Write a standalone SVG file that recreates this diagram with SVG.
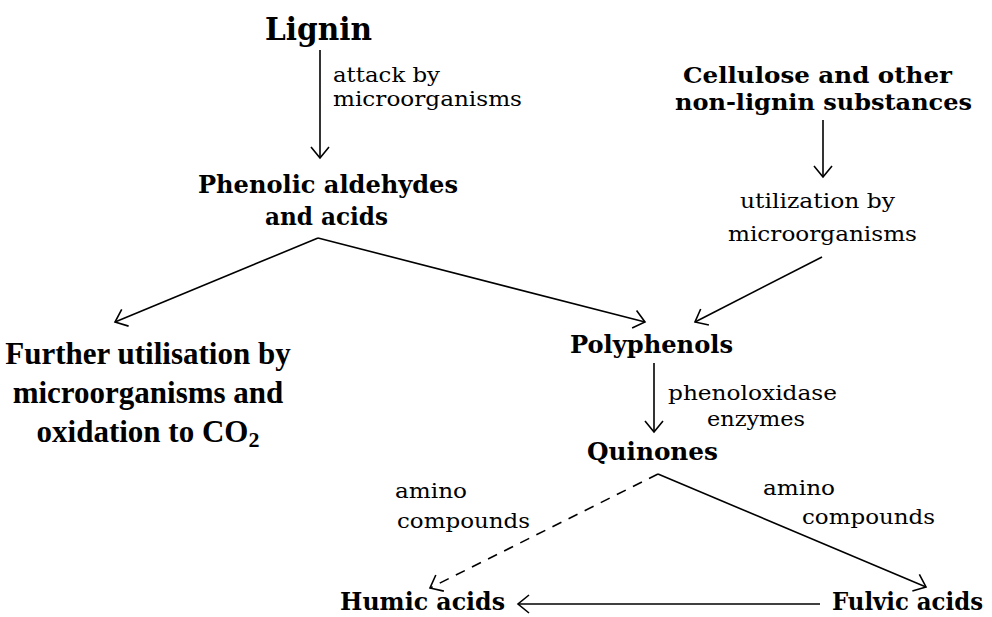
<svg xmlns="http://www.w3.org/2000/svg" width="992" height="617" viewBox="0 0 992 617">
<defs>
<style>
.b{font-family:"DejaVu Serif","Liberation Serif",serif;font-weight:bold;fill:#000}
.s{font-family:"DejaVu Serif","Liberation Serif",serif;font-size:21px;fill:#000}
.t{font-family:"Liberation Serif","Times New Roman",serif;font-weight:bold;font-size:31px;fill:#000}
.c{fill:none;stroke:#000;stroke-width:1.6}
</style>
<marker id="ah" viewBox="-14 -10 16 20" markerWidth="16" markerHeight="20" refX="0" refY="0" orient="auto" markerUnits="userSpaceOnUse">
<path d="M-11,-9 L0,0 L-11,9" fill="none" stroke="#000" stroke-width="1.6"/>
</marker>
</defs>
<rect width="992" height="617" fill="#fff"/>
<g id="connectors">
<path class="c" d="M320,50 V158" marker-end="url(#ah)"/>
<path class="c" d="M318,238 L115,322" marker-end="url(#ah)"/>
<path class="c" d="M318,238 L645,322" marker-end="url(#ah)"/>
<path class="c" d="M823,120 V177" marker-end="url(#ah)"/>
<path class="c" d="M822,257 L695,322" marker-end="url(#ah)"/>
<path class="c" d="M654,363 V432" marker-end="url(#ah)"/>
<path class="c" d="M658,474 L430,588" stroke-dasharray="10,8" marker-end="url(#ah)"/>
<path class="c" d="M658,474 L926,587" marker-end="url(#ah)"/>
<path class="c" d="M820,604 H518" marker-end="url(#ah)"/>
</g>
<g id="labels">
<text class="s" x="333" y="82" textLength="107" lengthAdjust="spacingAndGlyphs">attack by</text>
<text class="s" x="333" y="106" textLength="189" lengthAdjust="spacingAndGlyphs">microorganisms</text>
<text class="s" x="740" y="208" textLength="155" lengthAdjust="spacingAndGlyphs">utilization by</text>
<text class="s" x="728" y="241" textLength="189" lengthAdjust="spacingAndGlyphs">microorganisms</text>
<text class="s" x="668" y="400" textLength="169" lengthAdjust="spacingAndGlyphs">phenoloxidase</text>
<text class="s" x="707" y="426" textLength="98" lengthAdjust="spacingAndGlyphs">enzymes</text>
<text class="s" x="395" y="498" textLength="72" lengthAdjust="spacingAndGlyphs">amino</text>
<text class="s" x="397" y="528" textLength="133" lengthAdjust="spacingAndGlyphs">compounds</text>
<text class="s" x="763" y="495" textLength="72" lengthAdjust="spacingAndGlyphs">amino</text>
<text class="s" x="802" y="524" textLength="133" lengthAdjust="spacingAndGlyphs">compounds</text>
</g>
<g id="lignin"><text class="b" x="265" y="40" font-size="31" textLength="107" lengthAdjust="spacingAndGlyphs">Lignin</text></g>
<g id="phenolic">
<text class="b" x="198" y="193" font-size="24" textLength="260" lengthAdjust="spacingAndGlyphs">Phenolic aldehydes</text>
<text class="b" x="265" y="225" font-size="24" textLength="123" lengthAdjust="spacingAndGlyphs">and acids</text>
</g>
<g id="cellulose">
<text class="b" x="683" y="83" font-size="22" textLength="269" lengthAdjust="spacingAndGlyphs">Cellulose and other</text>
<text class="b" x="675" y="110" font-size="22" textLength="297" lengthAdjust="spacingAndGlyphs">non-lignin substances</text>
</g>
<g id="further">
<text class="t" x="148" y="364" text-anchor="middle">Further utilisation by</text>
<text class="t" x="148" y="403" text-anchor="middle">microorganisms and</text>
<text class="t" x="148" y="442" text-anchor="middle">oxidation to CO<tspan font-size="22" dy="5">2</tspan></text>
</g>
<g id="polyphenols"><text class="b" x="570" y="353" font-size="24" textLength="163" lengthAdjust="spacingAndGlyphs">Polyphenols</text></g>
<g id="quinones"><text class="b" x="587" y="460" font-size="24" textLength="131" lengthAdjust="spacingAndGlyphs">Quinones</text></g>
<g id="humic"><text class="b" x="340" y="610" font-size="24" textLength="165" lengthAdjust="spacingAndGlyphs">Humic acids</text></g>
<g id="fulvic"><text class="b" x="832" y="610" font-size="24" textLength="151" lengthAdjust="spacingAndGlyphs">Fulvic acids</text></g>
</svg>
